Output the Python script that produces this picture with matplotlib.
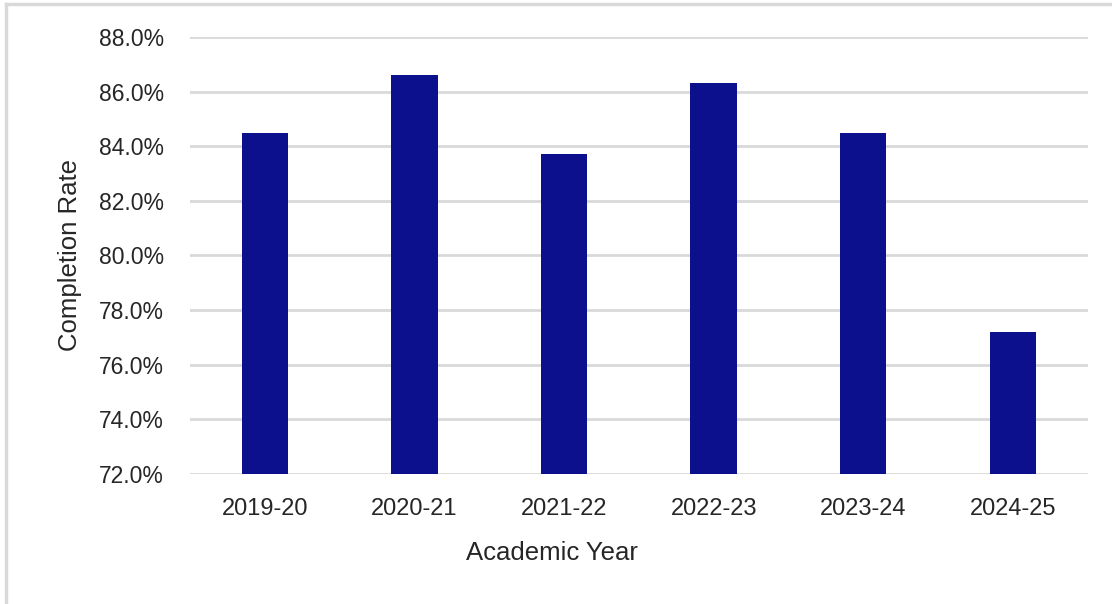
import numpy as np
import matplotlib.pyplot as plt
from matplotlib.lines import Line2D
from matplotlib.ticker import FuncFormatter

# completion rate per academic year (%)
years = ['2019-20', '2020-21', '2021-22', '2022-23', '2023-24', '2024-25']
rates = [84.5, 86.6, 83.7, 86.3, 84.5, 77.2]
y_ticks = [72, 74, 76, 78, 80, 82, 84, 86, 88]

plt.rcParams['font.family'] = ['Liberation Sans', 'DejaVu Sans']

fig = plt.figure(figsize=(11.12, 6.04), dpi=100)
ax = fig.add_axes([0.171, 0.215, 0.807, 0.724])

x = np.arange(len(years))
ax.bar(x, rates, width=0.31, color='#0C108C', zorder=3)

ax.set_xlim(-0.5, len(years) - 0.5)
ax.set_ylim(72, 88)
ax.set_yticks(y_ticks)
ax.yaxis.set_major_formatter(FuncFormatter(lambda v, p: f'{v:.1f}%'))
ax.set_xticks(x)
ax.set_xticklabels(years)
ax.tick_params(axis='both', length=0, colors='#262626')
ax.tick_params(axis='y', labelsize=16.5, pad=19)
ax.tick_params(axis='x', labelsize=17, pad=17)
ax.grid(axis='y', color='#d9d9d9', linewidth=2, zorder=0)
for s in ax.spines.values():
    s.set_visible(False)

ax.set_xlabel('Academic Year', fontsize=18.5, color='#262626')
ax.xaxis.set_label_coords(0.403, -0.153)
ax.set_ylabel('Completion Rate', fontsize=18.5, color='#262626', labelpad=12)

# light frame at top and left of the picture
fig.add_artist(Line2D([6 / 1112, 1], [1 - 4 / 604, 1 - 4 / 604], color='#d9d9d9', lw=2.5))
fig.add_artist(Line2D([6 / 1112, 6 / 1112], [0, 1 - 4 / 604], color='#d9d9d9', lw=2.5))

fig.savefig('out.png', dpi=100)
